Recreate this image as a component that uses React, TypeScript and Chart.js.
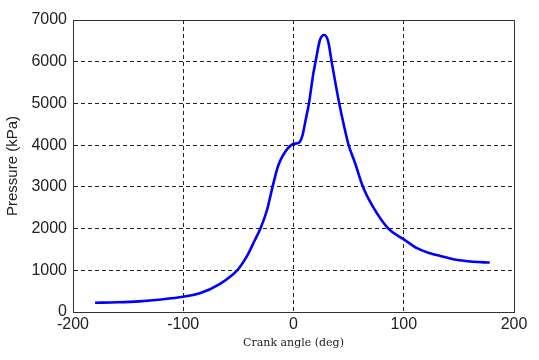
import React, { useEffect, useRef } from "react";
import { Chart, registerables } from "chart.js";

Chart.register(...registerables);

const crankAngle = [-180, -160, -140, -120, -100, -85, -67, -55, -50, -42.5, -35, -30, -24, -19, -14, -9, -5, -2, 0, 5, 8, 11, 14, 18, 20, 24, 28, 31.5, 34.6, 41.5, 46, 50, 56, 63, 72, 86, 100, 112, 124, 133, 145, 163, 178];
const pressure = [220, 232, 255, 300, 365, 448, 671, 900, 1030, 1326, 1726, 2000, 2445, 3000, 3500, 3780, 3930, 4000, 4030, 4060, 4220, 4600, 5000, 5720, 6000, 6520, 6640, 6480, 6000, 5000, 4440, 4000, 3560, 3000, 2525, 2000, 1743, 1530, 1407, 1343, 1265, 1205, 1185];
const xTicks = [-200, -100, 0, 100, 200];
const yTicks = [0, 1000, 2000, 3000, 4000, 5000, 6000, 7000];

export default function App() {
  const ref = useRef<HTMLCanvasElement>(null);
  useEffect(() => {
    if (!ref.current) return;
    const chart = new Chart(ref.current, {
      type: "line",
      data: {
        datasets: [
          {
            data: crankAngle.map((x, i) => ({ x, y: pressure[i] })),
            borderColor: "#0000ff",
            borderWidth: 2.6,
            pointRadius: 0,
            cubicInterpolationMode: "monotone",
            fill: false,
          },
        ],
      },
      options: {
        animation: false,
        responsive: false,
        plugins: { legend: { display: false }, tooltip: { enabled: false } },
        layout: { padding: { top: 20, right: 25, left: 0, bottom: 0 } },
        scales: {
          x: {
            type: "linear",
            min: -200,
            max: 200,
            afterBuildTicks: (s: any) => {
              s.ticks = xTicks.map((v) => ({ value: v }));
            },
            afterFit: (s: any) => {
              s.height = 48;
            },
            ticks: {
              color: "#222",
              font: { family: "Liberation Sans", size: 16 },
              padding: 3,
              maxRotation: 0,
              autoSkip: false,
              callback: (v: any) => String(v),
            },
            grid: {
              color: "#222",
              lineWidth: 1,
              drawTicks: false,
            },
            border: { display: true, color: "#333", width: 1, dash: [4, 3] },
            title: {
              display: true,
              text: "Crank angle (deg)",
              color: "#222",
              font: { family: "DejaVu Serif", size: 11 },
              padding: { top: 0, bottom: 10 },
            },
          },
          y: {
            type: "linear",
            min: 0,
            max: 7000,
            afterBuildTicks: (s: any) => {
              s.ticks = yTicks.map((v) => ({ value: v }));
            },
            afterFit: (s: any) => {
              s.width = 73;
            },
            ticks: {
              color: "#222",
              font: { family: "Liberation Sans", size: 16 },
              padding: 6,
              autoSkip: false,
              callback: (v: any) => String(v),
            },
            grid: {
              color: "#222",
              lineWidth: 1,
              drawTicks: false,
            },
            border: { display: true, color: "#333", width: 1, dash: [4, 3] },
            title: {
              display: true,
              text: "Pressure (kPa)",
              color: "#222",
              font: { family: "Liberation Sans", size: 15 },
              padding: { top: 4, bottom: 0 },
            },
          },
        },
      },
      plugins: [
        {
          id: "box",
          afterDraw: (c: any) => {
            const a = c.chartArea;
            const ctx = c.ctx;
            ctx.save();
            ctx.strokeStyle = "#333";
            ctx.lineWidth = 1;
            ctx.setLineDash([]);
            ctx.strokeRect(Math.round(a.left) + 0.5, Math.round(a.top) + 0.5, Math.round(a.right - a.left), Math.round(a.bottom - a.top));
            ctx.restore();
          },
        },
      ],
    } as any);
    return () => chart.destroy();
  }, []);
  return (
    <div style={{ position: "fixed", left: 0, top: 0, width: 539, height: 360, background: "#fff" }}>
      <canvas ref={ref} width={539} height={360} style={{ width: 539, height: 360 }} />
    </div>
  );
}
